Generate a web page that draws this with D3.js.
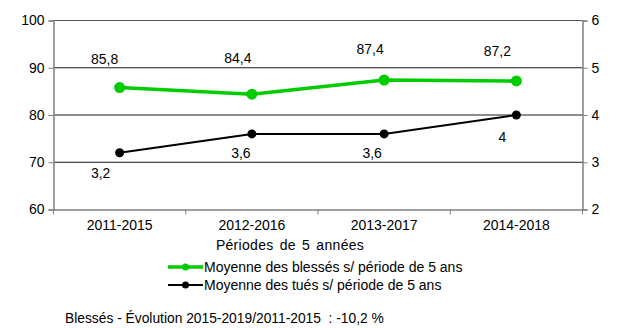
<!DOCTYPE html>
<html>
<head>
<meta charset="utf-8">
<script src="https://cdn.jsdelivr.net/npm/d3@7"></script>
<style>
  body { margin: 0; background: #fff; }
  svg { display: block; font-family: "Liberation Sans", Arial, sans-serif; }
</style>
</head>
<body>
<svg id="chart" width="617" height="328"></svg>
<script>
// Periods and five-year averages
const periods = ["2011-2015", "2012-2016", "2013-2017", "2014-2018"];
const blesses = [85.8, 84.4, 87.4, 87.2];
const tues = [3.2, 3.6, 3.6, 4];
const leftTicks = [60, 70, 80, 90, 100];
const rightTicks = [2, 3, 4, 5, 6];
const seriesNames = ["Moyenne des blessés s/ période de 5 ans", "Moyenne des tués s/ période de 5 ans"];
const xTitle = "Périodes de 5 années";
const footnote = "Blessés - Évolution 2015-2019/2011-2015  : -10,2 %";

const fmt = v => String(v).replace(".", ",");

const svg = d3.select("#chart");
const m = { left: 53.5, right: 582.5, top: 20.5, bottom: 209.5 };
const green = "#00cc00", black = "#000000", axisGray = "#808080";

const x = d3.scaleBand().domain(periods).range([m.left, m.right]).padding(0);
const yL = d3.scaleLinear().domain([60, 100]).range([m.bottom, m.top]);
const yR = d3.scaleLinear().domain([2, 6]).range([m.bottom, m.top]);

// Horizontal gridlines
svg.append("g").selectAll("line")
  .data(leftTicks.filter(t => t > 60 && t < 100))
  .join("line")
  .attr("x1", m.left).attr("x2", m.right)
  .attr("y1", d => yL(d)).attr("y2", d => yL(d))
  .attr("stroke", "#1a1a1a").attr("stroke-width", 1);

// Top border
svg.append("line").attr("x1", m.left).attr("x2", m.right)
  .attr("y1", yL(100)).attr("y2", yL(100)).attr("stroke", "#555").attr("stroke-width", 1);

// Left axis
const gL = svg.append("g").attr("transform", `translate(${m.left},0)`)
  .call(d3.axisLeft(yL).tickValues(leftTicks).tickSize(5).tickPadding(4));
// Right axis
const gR = svg.append("g").attr("transform", `translate(${m.right},0)`)
  .call(d3.axisRight(yR).tickValues(rightTicks).tickFormat(d3.format("d")).tickSize(5).tickPadding(4));
// Bottom axis
const gB = svg.append("g").attr("transform", `translate(0,${m.bottom})`)
  .call(d3.axisBottom(x).tickSize(0).tickPadding(11));

[gL, gR].forEach(g => {
  g.select(".domain").attr("stroke", axisGray).attr("stroke-width", 1.5);
  g.selectAll(".tick line").attr("stroke", axisGray);
  g.selectAll(".tick text").attr("fill", "#000").style("font-size", "14px");
});
gB.select(".domain").attr("stroke", axisGray).attr("stroke-width", 1.5);
gB.selectAll(".tick text").attr("fill", "#000").style("font-size", "14px");

// Category boundary ticks on the bottom axis
svg.append("g").selectAll("line")
  .data([...periods.map(p => x(p)), m.right])
  .join("line")
  .attr("x1", d => d).attr("x2", d => d)
  .attr("y1", m.bottom).attr("y2", m.bottom + 5)
  .attr("stroke", axisGray);

const cx = p => x(p) + x.bandwidth() / 2;

// Series lines
const lineL = d3.line().x((d, i) => cx(periods[i])).y(d => yL(d));
const lineR = d3.line().x((d, i) => cx(periods[i])).y(d => yR(d));

svg.append("path").datum(blesses).attr("d", lineL)
  .attr("fill", "none").attr("stroke", green).attr("stroke-width", 3.5);
svg.append("path").datum(tues).attr("d", lineR)
  .attr("fill", "none").attr("stroke", black).attr("stroke-width", 2);

svg.append("g").selectAll("circle").data(blesses).join("circle")
  .attr("cx", (d, i) => cx(periods[i])).attr("cy", d => yL(d)).attr("r", 5.5).attr("fill", green);
svg.append("g").selectAll("circle").data(tues).join("circle")
  .attr("cx", (d, i) => cx(periods[i])).attr("cy", d => yR(d)).attr("r", 4.5).attr("fill", black);

// Value labels (hand-placed label nudges relative to each point)
const topNudge = [[-15, -24], [-14, -31], [-14, -26], [-19, -25]];
const lowNudge = [[-19, 25], [-11, 24], [-12, 24], [-14, 27]];

svg.append("g").selectAll("text").data(blesses).join("text")
  .attr("x", (d, i) => cx(periods[i]) + topNudge[i][0])
  .attr("y", (d, i) => yL(d) + topNudge[i][1])
  .attr("text-anchor", "middle").style("font-size", "14px")
  .text(d => fmt(d));

svg.append("g").selectAll("text").data(tues).join("text")
  .attr("x", (d, i) => cx(periods[i]) + lowNudge[i][0])
  .attr("y", (d, i) => yR(d) + lowNudge[i][1])
  .attr("text-anchor", "middle").style("font-size", "14px")
  .text(d => fmt(d));

// Axis title
svg.append("text").attr("x", 290).attr("y", 250)
  .attr("text-anchor", "middle").style("font-size", "14px")
  .style("word-spacing", "2px").style("letter-spacing", "0.3px")
  .text(xTitle);

// Legend
const leg = svg.append("g");
[{ c: green, w: 3.5, r: 3.5 }, { c: black, w: 2, r: 3.5 }].forEach((s, i) => {
  const ly = 267 + i * 18;
  leg.append("line").attr("x1", 168).attr("x2", 203).attr("y1", ly).attr("y2", ly)
    .attr("stroke", s.c).attr("stroke-width", s.w);
  leg.append("circle").attr("cx", 185.5).attr("cy", ly).attr("r", s.r).attr("fill", s.c);
  leg.append("text").attr("x", 204).attr("y", ly + 5)
    .style("font-size", "14px").text(seriesNames[i]);
});

// Footnote
svg.append("text").attr("x", 65).attr("y", 323)
  .style("font-size", "13.8px").style("white-space", "pre")
  .text(footnote);
</script>
</body>
</html>
